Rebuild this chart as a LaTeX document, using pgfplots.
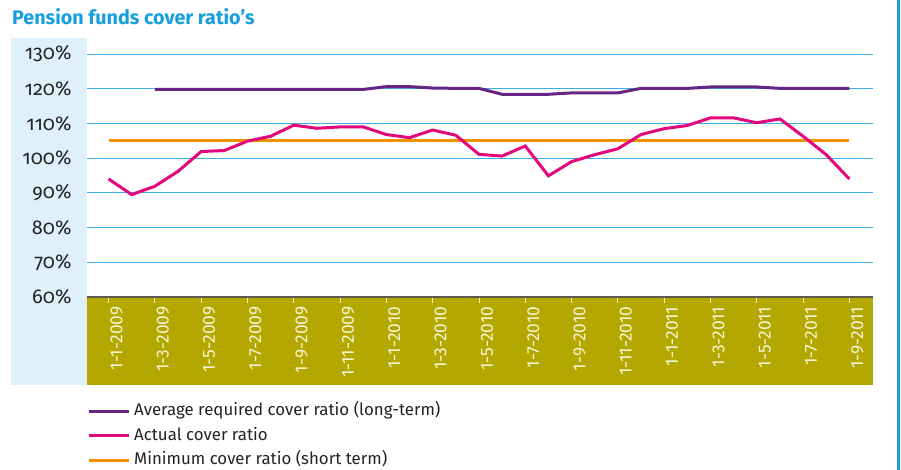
\documentclass[border=0pt]{standalone}
\usepackage{fontspec}
\setmainfont{Fira Sans}
\newfontfamily\oldnum{Fira Sans}[Numbers=OldStyle]
\usepackage{pgfplots}
\pgfplotsset{compat=1.18}
\usepackage{pgfplotstable}
\definecolor{titleblue}{RGB}{21,159,223}
\definecolor{gridblue}{RGB}{60,175,230}
\definecolor{panelblue}{RGB}{222,240,250}
\definecolor{olivebg}{RGB}{180,168,0}
\definecolor{cpurple}{RGB}{102,36,131}
\definecolor{cpink}{RGB}{227,6,125}
\definecolor{corange}{RGB}{243,146,0}
\definecolor{axisgray}{RGB}{95,90,80}
\definecolor{ticklab}{RGB}{245,245,215}
\definecolor{textgray}{RGB}{35,35,35}

\pgfplotstableread{
i actual
0 94.0
1 89.5
2 91.9
3 96.2
4 101.9
5 102.2
6 104.9
7 106.3
8 109.5
9 108.6
10 109.0
11 109.0
12 106.8
13 105.9
14 108.1
15 106.6
16 101.1
17 100.6
18 103.5
19 94.9
20 99.0
21 101.0
22 102.7
23 106.8
24 108.5
25 109.4
26 111.6
27 111.6
28 110.2
29 111.3
30 106.3
31 101.0
32 94.0
}\actualtable

\pgfplotstableread{
i required
2 119.8
3 119.8
4 119.8
5 119.8
6 119.8
7 119.8
8 119.8
9 119.8
10 119.8
11 119.8
12 120.6
13 120.6
14 120.2
15 120.1
16 120.1
17 118.4
18 118.4
19 118.4
20 118.8
21 118.8
22 118.8
23 120.1
24 120.1
25 120.1
26 120.5
27 120.5
28 120.5
29 120.1
30 120.1
31 120.1
32 120.1
}\requiredtable

\pgfplotstableread{
i minimum
0 105.0
1 105.0
2 105.0
3 105.0
4 105.0
5 105.0
6 105.0
7 105.0
8 105.0
9 105.0
10 105.0
11 105.0
12 105.0
13 105.0
14 105.0
15 105.0
16 105.0
17 105.0
18 105.0
19 105.0
20 105.0
21 105.0
22 105.0
23 105.0
24 105.0
25 105.0
26 105.0
27 105.0
28 105.0
29 105.0
30 105.0
31 105.0
32 105.0
}\minimumtable

\begin{document}
\begin{tikzpicture}
\useasboundingbox (-87bp,-173bp) rectangle (814bp,297bp);
\fill[panelblue] (-76bp,-88bp) rectangle (0bp,259bp);
\fill[olivebg] (0bp,-88bp) rectangle (786bp,0bp);
\fill[titleblue] (810bp,-173bp) rectangle (813bp,297bp);
\node[anchor=base west, inner sep=0pt, font=\bfseries\fontsize{19.8}{23}\selectfont, text=titleblue] at (-75bp,272bp) {Pension funds cover ratio’s};
\begin{axis}[
  scale only axis, width=786bp, height=243bp,
  xmin=-0.93, xmax=33.02, ymin=60, ymax=130,
  axis x line=bottom, axis y line=left,
  axis line style={-},
  x axis line style={draw=axisgray, line width=1.5bp},
  y axis line style={draw=none},
  xtick={0,2,...,32},
  xticklabels={1-1-2009,1-3-2009,1-5-2009,1-7-2009,1-9-2009,1-11-2009,1-1-2010,1-3-2010,1-5-2010,1-7-2010,1-9-2010,1-11-2010,1-1-2011,1-3-2011,1-5-2011,1-7-2011,1-9-2011},
  xtick align=outside,
  major tick length=6bp,
  xtick style={draw=ticklab, line width=0.8bp},
  ytick style={draw=none},
  xticklabel style={rotate=90, anchor=east, font=\fontsize{17.5}{20}\selectfont, text=ticklab, yshift=-8bp},
  ytick={60,70,...,130},
  yticklabels={60\%,70\%,80\%,90\%,100\%,110\%,120\%,130\%},
  yticklabel style={font=\oldnum\fontsize{20}{23}\selectfont, text=textgray, xshift=-9bp},
  ymajorgrids,
  grid style={draw=gridblue, line width=0.9bp},
  reverse legend,
  legend style={at={(axis description cs:0,-0.419)}, anchor=north west, draw=none, fill=none, inner sep=0pt,
    font=\fontsize{16.9}{20}\selectfont, text=textgray,
    nodes={text height=12bp, text depth=3.5bp, inner ysep=4.5bp, inner xsep=4bp}},
  legend cell align=left,
  legend image code/.code={\draw[#1] (0bp,0bp) -- (40bp,0bp);},
]
\addplot[corange, line width=3bp] table[x=i, y=minimum] {\minimumtable};
\addlegendentry{Minimum cover ratio (short term)}
\addplot[cpink, line width=3bp] table[x=i, y=actual] {\actualtable};
\addlegendentry{Actual cover ratio}
\addplot[cpurple, line width=3bp] table[x=i, y=required] {\requiredtable};
\addlegendentry{Average required cover ratio (long-term)}
\end{axis}
\end{tikzpicture}
\end{document}
